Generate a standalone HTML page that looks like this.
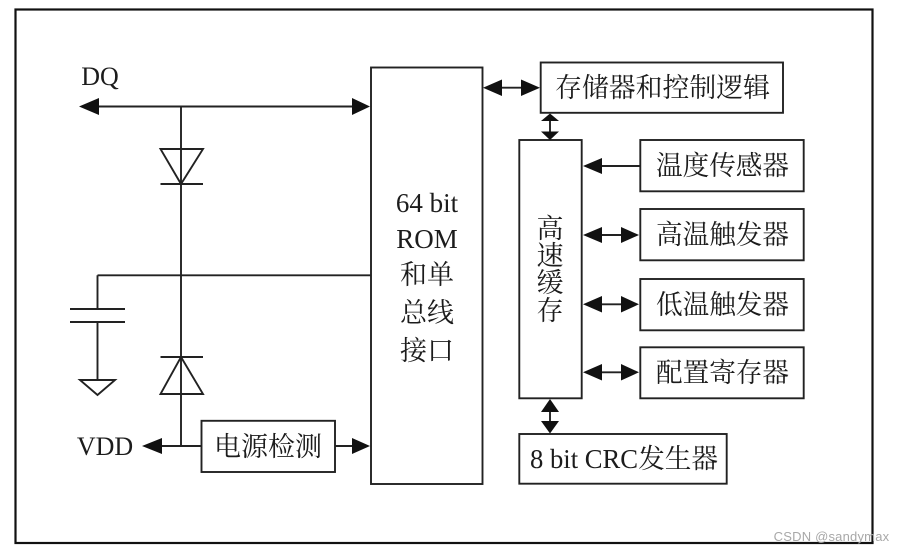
<!DOCTYPE html>
<html>
<head>
<meta charset="utf-8">
<style>
html,body{margin:0;padding:0;background:#fff;width:904px;height:554px;overflow:hidden}
svg{display:block}
text{font-family:"Liberation Serif","Noto Serif CJK SC",serif;font-size:27px;fill:#1c1c1c;text-anchor:middle}
.d{filter:blur(.35px)}
</style>
</head>
<body>
<svg width="904" height="554" viewBox="0 0 904 554" xmlns="http://www.w3.org/2000/svg">
<rect width="904" height="554" fill="#fff"/>
<g class="d">
<rect x="15.5" y="9.5" width="857" height="533.5" fill="none" stroke="#111" stroke-width="2.2"/>
<g fill="none" stroke="#222" stroke-width="1.9">
<path d="M90 106.5H360M181 106.5V446M97.5 275.3H371M97.5 275.3V309M97.5 322V380"/>
<path d="M70 309H125M70 322H125"/>
<path d="M160.500 149H203L181 184ZM160.500 184H203"/>
<path d="M160.500 357H203M181 357L203 394H160.500Z"/>
<path d="M80 380H115L97.500 395Z"/>
<path d="M155 446H201M335 446H355"/>
<rect x="201.500" y="420.800" width="133.500" height="51.200"/>
<rect x="371" y="67.500" width="111.500" height="416.500"/>
<rect x="540.700" y="62.500" width="242.300" height="50.300"/>
<rect x="519.300" y="140" width="62.400" height="258.300"/>
<rect x="640.300" y="140" width="163.400" height="51.300"/>
<rect x="640.300" y="209" width="163.400" height="51.300"/>
<rect x="640.300" y="279" width="163.400" height="51.300"/>
<rect x="640.300" y="347.300" width="163.400" height="51"/>
<rect x="519.300" y="434" width="207.400" height="49.700"/>
<path d="M495 87.700H530M550 118V135M550 405V428M595 166H640M595 235H630M595 304.300H630M595 372.300H630"/>
</g>
<g fill="#111">
<path d="M79 106.500L99 98V115Z"/>
<path d="M370 106.500L352 98V115Z"/>
<path d="M142 446L162 438V454Z"/>
<path d="M370 446L352 438V454Z"/>
<path d="M483 87.700L502 79.500V96Z"/>
<path d="M540 87.700L521 79.500V96Z"/>
<path d="M550 113.500L559 121H541Z"/>
<path d="M550 140L559 131.500H541Z"/>
<path d="M583 166L602 158V174Z"/>
<path d="M583 235L602 227V243Z"/>
<path d="M639 235L621 227V243Z"/>
<path d="M583 304.300L602 296V312.500Z"/>
<path d="M639 304.300L621 296V312.500Z"/>
<path d="M583 372.300L602 364V380.500Z"/>
<path d="M639 372.300L621 364V380.500Z"/>
<path d="M550 399L559 412H541Z"/>
<path d="M550 433.500L559 421H541Z"/>
</g>
<text x="100" y="85" style="font-size:26px">DQ</text>
<text x="105" y="455" style="font-size:26px">VDD</text>
<text x="268" y="456">电源检测</text>
<text x="427" y="212">64 bit</text>
<text x="427" y="248">ROM</text>
<text x="427" y="284">和单</text>
<text x="427" y="322">总线</text>
<text x="427" y="360">接口</text>
<text x="662.500" y="97" textLength="215" lengthAdjust="spacingAndGlyphs">存储器和控制逻辑</text>
<text x="722.500" y="175" textLength="133" lengthAdjust="spacingAndGlyphs">温度传感器</text>
<text x="722.500" y="244" textLength="133" lengthAdjust="spacingAndGlyphs">高温触发器</text>
<text x="722.500" y="314" textLength="133" lengthAdjust="spacingAndGlyphs">低温触发器</text>
<text x="722.500" y="382" textLength="133" lengthAdjust="spacingAndGlyphs">配置寄存器</text>
<text x="550" y="238">高</text>
<text x="550" y="265">速</text>
<text x="550" y="292">缓</text>
<text x="550" y="320">存</text>
<text x="624" y="468" textLength="188" lengthAdjust="spacingAndGlyphs">8 bit CRC发生器</text>
</g>
<text x="831.500" y="541" style="font-family:'Liberation Sans',sans-serif;font-size:13px;fill:#a8a8a8;letter-spacing:.2px">CSDN @sandymax</text>
</svg>
</body>
</html>
